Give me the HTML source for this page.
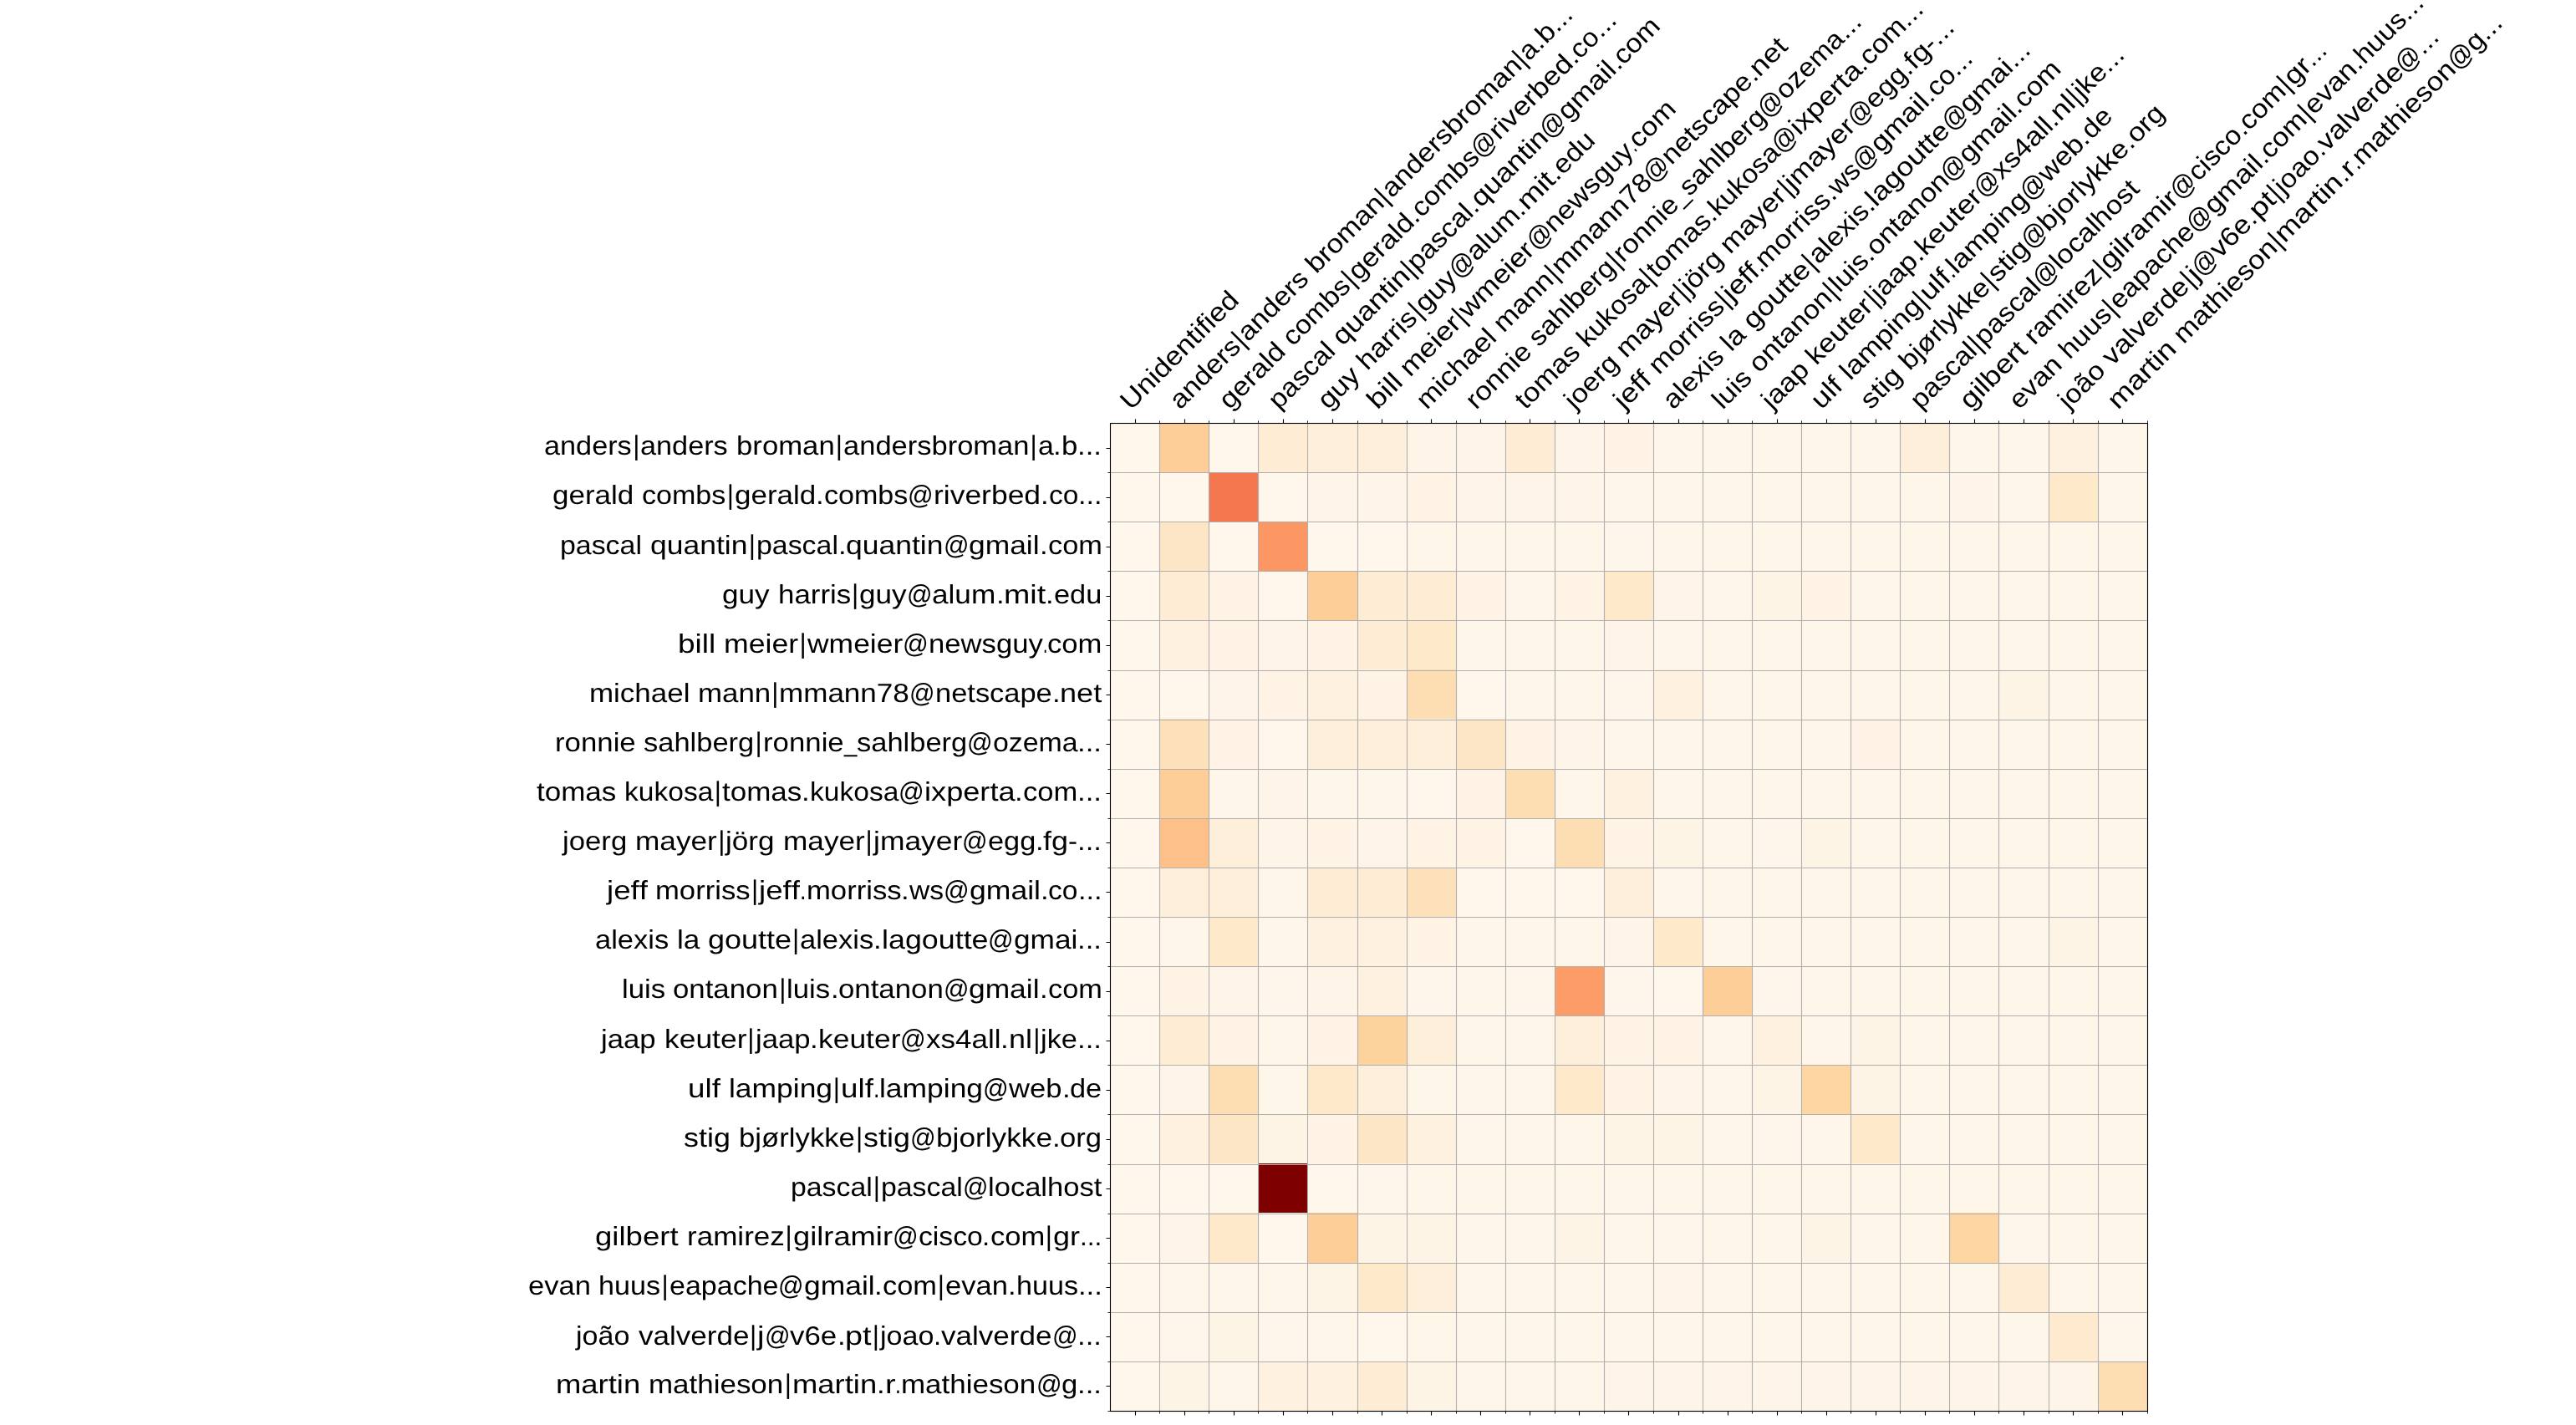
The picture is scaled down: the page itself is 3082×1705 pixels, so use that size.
<!DOCTYPE html>
<html lang="en"><head><meta charset="utf-8"><title>Author similarity heatmap</title><style>
html,body{margin:0;padding:0;background:#fff}
body{width:3082px;height:1705px;position:relative;font-family:"Liberation Sans",sans-serif;color:#000}
.yl,.xl{position:absolute;white-space:pre;font-size:31.63px;line-height:32px;height:32px;font-kerning:none;text-rendering:geometricPrecision}
.yl{transform-origin:100% 27px}
.xl{transform-origin:0 27px}
.yl span,.xl span{display:inline-block;transform-origin:0 50%}
.yl span.b,.xl span.b{text-align:center;transform-origin:50% 18.9px;transform:scaleY(1.033)}
</style></head><body>
<svg width="3082" height="1705" viewBox="0 0 3082 1705" style="position:absolute;left:0;top:0">
<g shape-rendering="crispEdges">
<rect x="1328" y="506" width="1242" height="1183" fill="#fff7ec"/>
<rect x="1387" y="506" width="59" height="59" fill="#fdce98"/>
<rect x="1505" y="506" width="59" height="59" fill="#feedd4"/>
<rect x="1564" y="506" width="60" height="59" fill="#feefdb"/>
<rect x="1624" y="506" width="59" height="59" fill="#feefdb"/>
<rect x="1683" y="506" width="59" height="59" fill="#fef5e8"/>
<rect x="1742" y="506" width="59" height="59" fill="#fef5e8"/>
<rect x="1801" y="506" width="59" height="59" fill="#feedd4"/>
<rect x="1860" y="506" width="59" height="59" fill="#fef5e8"/>
<rect x="1919" y="506" width="59" height="59" fill="#fef3e4"/>
<rect x="1978" y="506" width="59" height="59" fill="#fef6e9"/>
<rect x="2037" y="506" width="59" height="59" fill="#fef6e9"/>
<rect x="2096" y="506" width="59" height="59" fill="#fef6e9"/>
<rect x="2155" y="506" width="59" height="59" fill="#fef6e9"/>
<rect x="2214" y="506" width="59" height="59" fill="#fef6e9"/>
<rect x="2273" y="506" width="59" height="59" fill="#feefdb"/>
<rect x="2332" y="506" width="59" height="59" fill="#fef6e9"/>
<rect x="2391" y="506" width="60" height="59" fill="#fef6e9"/>
<rect x="2451" y="506" width="59" height="59" fill="#fef1df"/>
<rect x="2510" y="506" width="59" height="59" fill="#fef6e9"/>
<rect x="1446" y="565" width="59" height="59" fill="#f4774f"/>
<rect x="1564" y="565" width="60" height="59" fill="#fef5e8"/>
<rect x="1624" y="565" width="59" height="59" fill="#fef5e8"/>
<rect x="1683" y="565" width="59" height="59" fill="#fef3e4"/>
<rect x="1742" y="565" width="59" height="59" fill="#fef5e8"/>
<rect x="1801" y="565" width="59" height="59" fill="#fef5e8"/>
<rect x="1860" y="565" width="59" height="59" fill="#fef5e8"/>
<rect x="1919" y="565" width="59" height="59" fill="#fef6e9"/>
<rect x="1978" y="565" width="59" height="59" fill="#fef6e9"/>
<rect x="2037" y="565" width="59" height="59" fill="#fef6e9"/>
<rect x="2096" y="565" width="59" height="59" fill="#fef6e9"/>
<rect x="2155" y="565" width="59" height="59" fill="#fef6e9"/>
<rect x="2214" y="565" width="59" height="59" fill="#fef6e9"/>
<rect x="2273" y="565" width="59" height="59" fill="#fef6e9"/>
<rect x="2332" y="565" width="59" height="59" fill="#fef5e8"/>
<rect x="2391" y="565" width="60" height="59" fill="#fef6e9"/>
<rect x="2451" y="565" width="59" height="59" fill="#fee9cb"/>
<rect x="2510" y="565" width="59" height="59" fill="#fef6e9"/>
<rect x="1387" y="624" width="59" height="59" fill="#fde6c5"/>
<rect x="1505" y="624" width="59" height="59" fill="#fc9763"/>
<rect x="1683" y="624" width="59" height="59" fill="#fef6e9"/>
<rect x="1742" y="624" width="59" height="59" fill="#fef6e9"/>
<rect x="1801" y="624" width="59" height="59" fill="#fef6e9"/>
<rect x="1860" y="624" width="59" height="59" fill="#fef6e9"/>
<rect x="1919" y="624" width="59" height="59" fill="#fef6ea"/>
<rect x="1978" y="624" width="59" height="59" fill="#fef6e9"/>
<rect x="2037" y="624" width="59" height="59" fill="#fef6e9"/>
<rect x="2096" y="624" width="59" height="59" fill="#fef6e9"/>
<rect x="2155" y="624" width="59" height="59" fill="#fef6e9"/>
<rect x="2214" y="624" width="59" height="59" fill="#fef6e9"/>
<rect x="2273" y="624" width="59" height="59" fill="#fef6e9"/>
<rect x="2332" y="624" width="59" height="59" fill="#fef6e9"/>
<rect x="2391" y="624" width="60" height="59" fill="#fef6e9"/>
<rect x="2451" y="624" width="59" height="59" fill="#fef6e9"/>
<rect x="2510" y="624" width="59" height="59" fill="#fef6e9"/>
<rect x="1387" y="683" width="59" height="59" fill="#feedd4"/>
<rect x="1446" y="683" width="59" height="59" fill="#fef3e4"/>
<rect x="1564" y="683" width="60" height="59" fill="#fdce98"/>
<rect x="1624" y="683" width="59" height="59" fill="#feedd4"/>
<rect x="1683" y="683" width="59" height="59" fill="#feedd4"/>
<rect x="1742" y="683" width="59" height="59" fill="#fef3e4"/>
<rect x="1801" y="683" width="59" height="59" fill="#fef6e9"/>
<rect x="1860" y="683" width="59" height="59" fill="#fef3e4"/>
<rect x="1919" y="683" width="59" height="59" fill="#fee9cb"/>
<rect x="1978" y="683" width="59" height="59" fill="#fef5e8"/>
<rect x="2037" y="683" width="59" height="59" fill="#fef6ea"/>
<rect x="2096" y="683" width="59" height="59" fill="#fef4e6"/>
<rect x="2155" y="683" width="59" height="59" fill="#fef3e4"/>
<rect x="2214" y="683" width="59" height="59" fill="#fef6ea"/>
<rect x="2273" y="683" width="59" height="59" fill="#fef6e9"/>
<rect x="2332" y="683" width="59" height="59" fill="#fef6e9"/>
<rect x="2391" y="683" width="60" height="59" fill="#fef6e9"/>
<rect x="2451" y="683" width="59" height="59" fill="#fef6e9"/>
<rect x="2510" y="683" width="59" height="59" fill="#fef6e9"/>
<rect x="1387" y="742" width="59" height="59" fill="#fef1df"/>
<rect x="1446" y="742" width="59" height="59" fill="#fef3e4"/>
<rect x="1505" y="742" width="59" height="59" fill="#fef5e8"/>
<rect x="1564" y="742" width="60" height="59" fill="#fef3e4"/>
<rect x="1624" y="742" width="59" height="59" fill="#feedd4"/>
<rect x="1683" y="742" width="59" height="59" fill="#fee9cb"/>
<rect x="1742" y="742" width="59" height="59" fill="#fef6e9"/>
<rect x="1801" y="742" width="59" height="59" fill="#fef6e9"/>
<rect x="1860" y="742" width="59" height="59" fill="#fef6e9"/>
<rect x="1919" y="742" width="59" height="59" fill="#fef5e8"/>
<rect x="1978" y="742" width="59" height="59" fill="#fef6ea"/>
<rect x="2037" y="742" width="59" height="59" fill="#fef6e9"/>
<rect x="2096" y="742" width="59" height="59" fill="#fef6e9"/>
<rect x="2155" y="742" width="59" height="59" fill="#fef6e9"/>
<rect x="2214" y="742" width="59" height="59" fill="#fef6e9"/>
<rect x="2273" y="742" width="59" height="59" fill="#fef6e9"/>
<rect x="2332" y="742" width="59" height="59" fill="#fef6e9"/>
<rect x="2391" y="742" width="60" height="59" fill="#fef6e9"/>
<rect x="2451" y="742" width="59" height="59" fill="#fef6e9"/>
<rect x="2510" y="742" width="59" height="59" fill="#fef6e9"/>
<rect x="1446" y="801" width="59" height="59" fill="#fef5e8"/>
<rect x="1505" y="801" width="59" height="59" fill="#fef3e4"/>
<rect x="1564" y="801" width="60" height="59" fill="#fef1df"/>
<rect x="1624" y="801" width="59" height="59" fill="#fef3e4"/>
<rect x="1683" y="801" width="59" height="59" fill="#fdddb2"/>
<rect x="1801" y="801" width="59" height="59" fill="#fef6e9"/>
<rect x="1860" y="801" width="59" height="59" fill="#fef6e9"/>
<rect x="1919" y="801" width="59" height="59" fill="#fef6ea"/>
<rect x="1978" y="801" width="59" height="59" fill="#fef1df"/>
<rect x="2037" y="801" width="59" height="59" fill="#fef6e9"/>
<rect x="2096" y="801" width="59" height="59" fill="#fef6e9"/>
<rect x="2155" y="801" width="59" height="59" fill="#fef6e9"/>
<rect x="2214" y="801" width="59" height="59" fill="#fef6e9"/>
<rect x="2273" y="801" width="59" height="59" fill="#fef6e9"/>
<rect x="2332" y="801" width="59" height="59" fill="#fef6e9"/>
<rect x="2391" y="801" width="60" height="59" fill="#fef4e6"/>
<rect x="2451" y="801" width="59" height="59" fill="#fef6e9"/>
<rect x="2510" y="801" width="59" height="59" fill="#fef6e9"/>
<rect x="1387" y="860" width="59" height="60" fill="#fde1ba"/>
<rect x="1446" y="860" width="59" height="60" fill="#fef3e4"/>
<rect x="1564" y="860" width="60" height="60" fill="#feefdb"/>
<rect x="1624" y="860" width="59" height="60" fill="#feefdb"/>
<rect x="1683" y="860" width="59" height="60" fill="#feefdb"/>
<rect x="1742" y="860" width="59" height="60" fill="#fde6c5"/>
<rect x="1801" y="860" width="59" height="60" fill="#fef3e4"/>
<rect x="1860" y="860" width="59" height="60" fill="#fef5e8"/>
<rect x="1919" y="860" width="59" height="60" fill="#fef6e9"/>
<rect x="1978" y="860" width="59" height="60" fill="#fef6e9"/>
<rect x="2037" y="860" width="59" height="60" fill="#fef6e9"/>
<rect x="2096" y="860" width="59" height="60" fill="#fef6e9"/>
<rect x="2155" y="860" width="59" height="60" fill="#fef6e9"/>
<rect x="2214" y="860" width="59" height="60" fill="#fef3e4"/>
<rect x="2273" y="860" width="59" height="60" fill="#fef6e9"/>
<rect x="2332" y="860" width="59" height="60" fill="#fef6e9"/>
<rect x="2391" y="860" width="60" height="60" fill="#fef6e9"/>
<rect x="2451" y="860" width="59" height="60" fill="#fef6e9"/>
<rect x="2510" y="860" width="59" height="60" fill="#fef6e9"/>
<rect x="1387" y="920" width="59" height="59" fill="#fdce98"/>
<rect x="1446" y="920" width="59" height="59" fill="#fef6e9"/>
<rect x="1505" y="920" width="59" height="59" fill="#fef5e8"/>
<rect x="1564" y="920" width="60" height="59" fill="#fef6e9"/>
<rect x="1624" y="920" width="59" height="59" fill="#fef6e9"/>
<rect x="1742" y="920" width="59" height="59" fill="#fef3e4"/>
<rect x="1801" y="920" width="59" height="59" fill="#fdddb2"/>
<rect x="1860" y="920" width="59" height="59" fill="#fef6e9"/>
<rect x="1919" y="920" width="59" height="59" fill="#fef1df"/>
<rect x="1978" y="920" width="59" height="59" fill="#fef6e9"/>
<rect x="2037" y="920" width="59" height="59" fill="#fef6e9"/>
<rect x="2096" y="920" width="59" height="59" fill="#fef6e9"/>
<rect x="2155" y="920" width="59" height="59" fill="#fef6e9"/>
<rect x="2214" y="920" width="59" height="59" fill="#fef6e9"/>
<rect x="2273" y="920" width="59" height="59" fill="#fef6e9"/>
<rect x="2332" y="920" width="59" height="59" fill="#fef6e9"/>
<rect x="2391" y="920" width="60" height="59" fill="#fef6e9"/>
<rect x="2451" y="920" width="59" height="59" fill="#fef6e9"/>
<rect x="2510" y="920" width="59" height="59" fill="#fef6e9"/>
<rect x="1387" y="979" width="59" height="59" fill="#fdc089"/>
<rect x="1446" y="979" width="59" height="59" fill="#feefdb"/>
<rect x="1505" y="979" width="59" height="59" fill="#fef5e8"/>
<rect x="1564" y="979" width="60" height="59" fill="#fef3e4"/>
<rect x="1624" y="979" width="59" height="59" fill="#fef5e8"/>
<rect x="1683" y="979" width="59" height="59" fill="#fef3e4"/>
<rect x="1742" y="979" width="59" height="59" fill="#fef3e4"/>
<rect x="1860" y="979" width="59" height="59" fill="#fdddb2"/>
<rect x="1919" y="979" width="59" height="59" fill="#fef3e4"/>
<rect x="1978" y="979" width="59" height="59" fill="#fef4e6"/>
<rect x="2037" y="979" width="59" height="59" fill="#fef6e9"/>
<rect x="2096" y="979" width="59" height="59" fill="#fef6ea"/>
<rect x="2155" y="979" width="59" height="59" fill="#fef4e6"/>
<rect x="2214" y="979" width="59" height="59" fill="#fef6e9"/>
<rect x="2273" y="979" width="59" height="59" fill="#fef6e9"/>
<rect x="2332" y="979" width="59" height="59" fill="#fef6e9"/>
<rect x="2391" y="979" width="60" height="59" fill="#fef6e9"/>
<rect x="2451" y="979" width="59" height="59" fill="#fef6e9"/>
<rect x="2510" y="979" width="59" height="59" fill="#fef6e9"/>
<rect x="1387" y="1038" width="59" height="59" fill="#feefdb"/>
<rect x="1446" y="1038" width="59" height="59" fill="#feefdb"/>
<rect x="1505" y="1038" width="59" height="59" fill="#fef6e9"/>
<rect x="1564" y="1038" width="60" height="59" fill="#feedd4"/>
<rect x="1624" y="1038" width="59" height="59" fill="#feedd4"/>
<rect x="1683" y="1038" width="59" height="59" fill="#fde1ba"/>
<rect x="1919" y="1038" width="59" height="59" fill="#feefdb"/>
<rect x="1978" y="1038" width="59" height="59" fill="#fef6ea"/>
<rect x="2037" y="1038" width="59" height="59" fill="#fef6e9"/>
<rect x="2096" y="1038" width="59" height="59" fill="#fef6e9"/>
<rect x="2155" y="1038" width="59" height="59" fill="#fef6e9"/>
<rect x="2214" y="1038" width="59" height="59" fill="#fef6e9"/>
<rect x="2273" y="1038" width="59" height="59" fill="#fef6e9"/>
<rect x="2332" y="1038" width="59" height="59" fill="#fef6e9"/>
<rect x="2391" y="1038" width="60" height="59" fill="#fef6e9"/>
<rect x="2451" y="1038" width="59" height="59" fill="#fef6e9"/>
<rect x="2510" y="1038" width="59" height="59" fill="#fef6e9"/>
<rect x="1387" y="1097" width="59" height="59" fill="#fef6e9"/>
<rect x="1446" y="1097" width="59" height="59" fill="#fee9cb"/>
<rect x="1505" y="1097" width="59" height="59" fill="#fef6e9"/>
<rect x="1564" y="1097" width="60" height="59" fill="#fef1df"/>
<rect x="1624" y="1097" width="59" height="59" fill="#fef1df"/>
<rect x="1683" y="1097" width="59" height="59" fill="#fef3e4"/>
<rect x="1742" y="1097" width="59" height="59" fill="#fef6e9"/>
<rect x="1801" y="1097" width="59" height="59" fill="#fef6e9"/>
<rect x="1860" y="1097" width="59" height="59" fill="#fef6e9"/>
<rect x="1919" y="1097" width="59" height="59" fill="#fef5e8"/>
<rect x="1978" y="1097" width="59" height="59" fill="#fee9cb"/>
<rect x="2037" y="1097" width="59" height="59" fill="#fef6e9"/>
<rect x="2096" y="1097" width="59" height="59" fill="#fef6e9"/>
<rect x="2155" y="1097" width="59" height="59" fill="#fef6e9"/>
<rect x="2214" y="1097" width="59" height="59" fill="#fef6e9"/>
<rect x="2273" y="1097" width="59" height="59" fill="#fef6e9"/>
<rect x="2332" y="1097" width="59" height="59" fill="#fef6e9"/>
<rect x="2391" y="1097" width="60" height="59" fill="#fef6e9"/>
<rect x="2451" y="1097" width="59" height="59" fill="#fef4e6"/>
<rect x="2510" y="1097" width="59" height="59" fill="#fef6e9"/>
<rect x="1387" y="1156" width="59" height="59" fill="#fef3e4"/>
<rect x="1446" y="1156" width="59" height="59" fill="#fef5e8"/>
<rect x="1505" y="1156" width="59" height="59" fill="#fef6ea"/>
<rect x="1564" y="1156" width="60" height="59" fill="#fef5e8"/>
<rect x="1624" y="1156" width="59" height="59" fill="#fef1df"/>
<rect x="1683" y="1156" width="59" height="59" fill="#fef6ea"/>
<rect x="1742" y="1156" width="59" height="59" fill="#fef6e9"/>
<rect x="1801" y="1156" width="59" height="59" fill="#fef6ea"/>
<rect x="1860" y="1156" width="59" height="59" fill="#fc9c67"/>
<rect x="1919" y="1156" width="59" height="59" fill="#fef6ea"/>
<rect x="2037" y="1156" width="59" height="59" fill="#fdce98"/>
<rect x="2096" y="1156" width="59" height="59" fill="#fef6ea"/>
<rect x="2155" y="1156" width="59" height="59" fill="#fef6e9"/>
<rect x="2214" y="1156" width="59" height="59" fill="#fef6e9"/>
<rect x="2273" y="1156" width="59" height="59" fill="#fef6e9"/>
<rect x="2332" y="1156" width="59" height="59" fill="#fef6e9"/>
<rect x="2391" y="1156" width="60" height="59" fill="#fef6e9"/>
<rect x="2451" y="1156" width="59" height="59" fill="#fef6e9"/>
<rect x="2510" y="1156" width="59" height="59" fill="#fef6e9"/>
<rect x="1387" y="1215" width="59" height="59" fill="#feedd4"/>
<rect x="1446" y="1215" width="59" height="59" fill="#fef3e4"/>
<rect x="1505" y="1215" width="59" height="59" fill="#fef6e9"/>
<rect x="1564" y="1215" width="60" height="59" fill="#fef3e4"/>
<rect x="1624" y="1215" width="59" height="59" fill="#fdd39d"/>
<rect x="1683" y="1215" width="59" height="59" fill="#feefdb"/>
<rect x="1742" y="1215" width="59" height="59" fill="#fef6e9"/>
<rect x="1801" y="1215" width="59" height="59" fill="#fef6e9"/>
<rect x="1860" y="1215" width="59" height="59" fill="#feefdb"/>
<rect x="1919" y="1215" width="59" height="59" fill="#fef3e4"/>
<rect x="1978" y="1215" width="59" height="59" fill="#fef3e4"/>
<rect x="2037" y="1215" width="59" height="59" fill="#fef6e9"/>
<rect x="2096" y="1215" width="59" height="59" fill="#fef1df"/>
<rect x="2155" y="1215" width="59" height="59" fill="#fef6e9"/>
<rect x="2214" y="1215" width="59" height="59" fill="#fef4e6"/>
<rect x="2273" y="1215" width="59" height="59" fill="#fef6e9"/>
<rect x="2332" y="1215" width="59" height="59" fill="#fef6e9"/>
<rect x="2391" y="1215" width="60" height="59" fill="#fef6e9"/>
<rect x="2451" y="1215" width="59" height="59" fill="#fef6e9"/>
<rect x="2510" y="1215" width="59" height="59" fill="#fef6e9"/>
<rect x="1387" y="1274" width="59" height="59" fill="#fef5e8"/>
<rect x="1446" y="1274" width="59" height="59" fill="#fdddb2"/>
<rect x="1505" y="1274" width="59" height="59" fill="#fef6e9"/>
<rect x="1564" y="1274" width="60" height="59" fill="#fee9cb"/>
<rect x="1624" y="1274" width="59" height="59" fill="#feefdb"/>
<rect x="1683" y="1274" width="59" height="59" fill="#fef6e9"/>
<rect x="1742" y="1274" width="59" height="59" fill="#fef6ea"/>
<rect x="1801" y="1274" width="59" height="59" fill="#fef6e9"/>
<rect x="1860" y="1274" width="59" height="59" fill="#fee9cb"/>
<rect x="1919" y="1274" width="59" height="59" fill="#fef3e4"/>
<rect x="1978" y="1274" width="59" height="59" fill="#fef5e8"/>
<rect x="2037" y="1274" width="59" height="59" fill="#fef6e9"/>
<rect x="2096" y="1274" width="59" height="59" fill="#fef4e6"/>
<rect x="2155" y="1274" width="59" height="59" fill="#fdd6a2"/>
<rect x="2214" y="1274" width="59" height="59" fill="#fef4e6"/>
<rect x="2273" y="1274" width="59" height="59" fill="#fef6e9"/>
<rect x="2332" y="1274" width="59" height="59" fill="#fef6e9"/>
<rect x="2391" y="1274" width="60" height="59" fill="#fef6e9"/>
<rect x="2451" y="1274" width="59" height="59" fill="#fef6e9"/>
<rect x="2510" y="1274" width="59" height="59" fill="#fef6e9"/>
<rect x="1387" y="1333" width="59" height="59" fill="#fef1df"/>
<rect x="1446" y="1333" width="59" height="59" fill="#fde6c5"/>
<rect x="1505" y="1333" width="59" height="59" fill="#fef4e6"/>
<rect x="1564" y="1333" width="60" height="59" fill="#fef3e4"/>
<rect x="1624" y="1333" width="59" height="59" fill="#fde6c5"/>
<rect x="1683" y="1333" width="59" height="59" fill="#fef1df"/>
<rect x="1742" y="1333" width="59" height="59" fill="#fef6ea"/>
<rect x="1801" y="1333" width="59" height="59" fill="#fef6e9"/>
<rect x="1860" y="1333" width="59" height="59" fill="#fef6e9"/>
<rect x="1919" y="1333" width="59" height="59" fill="#fef4e6"/>
<rect x="1978" y="1333" width="59" height="59" fill="#fef4e6"/>
<rect x="2037" y="1333" width="59" height="59" fill="#fef6e9"/>
<rect x="2096" y="1333" width="59" height="59" fill="#fef6ea"/>
<rect x="2155" y="1333" width="59" height="59" fill="#fef6ea"/>
<rect x="2214" y="1333" width="59" height="59" fill="#fee9cb"/>
<rect x="2273" y="1333" width="59" height="59" fill="#fef6e9"/>
<rect x="2332" y="1333" width="59" height="59" fill="#fef6e9"/>
<rect x="2391" y="1333" width="60" height="59" fill="#fef6e9"/>
<rect x="2451" y="1333" width="59" height="59" fill="#fef6e9"/>
<rect x="2510" y="1333" width="59" height="59" fill="#fef6e9"/>
<rect x="1505" y="1392" width="59" height="59" fill="#7f0000"/>
<rect x="1624" y="1392" width="59" height="59" fill="#fef6ea"/>
<rect x="1683" y="1392" width="59" height="59" fill="#fef6e9"/>
<rect x="1742" y="1392" width="59" height="59" fill="#fef6e9"/>
<rect x="1801" y="1392" width="59" height="59" fill="#fef6e9"/>
<rect x="1860" y="1392" width="59" height="59" fill="#fef6e9"/>
<rect x="1919" y="1392" width="59" height="59" fill="#fef6e9"/>
<rect x="1978" y="1392" width="59" height="59" fill="#fef6e9"/>
<rect x="2037" y="1392" width="59" height="59" fill="#fef6e9"/>
<rect x="2096" y="1392" width="59" height="59" fill="#fef6e9"/>
<rect x="2155" y="1392" width="59" height="59" fill="#fef6e9"/>
<rect x="2214" y="1392" width="59" height="59" fill="#fef6e9"/>
<rect x="2273" y="1392" width="59" height="59" fill="#fef6e9"/>
<rect x="2332" y="1392" width="59" height="59" fill="#fef6e9"/>
<rect x="2391" y="1392" width="60" height="59" fill="#fef6e9"/>
<rect x="2451" y="1392" width="59" height="59" fill="#fef6e9"/>
<rect x="2510" y="1392" width="59" height="59" fill="#fef6e9"/>
<rect x="1387" y="1451" width="59" height="60" fill="#fef5e8"/>
<rect x="1446" y="1451" width="59" height="60" fill="#fee9cb"/>
<rect x="1564" y="1451" width="60" height="60" fill="#fdce98"/>
<rect x="1624" y="1451" width="59" height="60" fill="#fef4e6"/>
<rect x="1683" y="1451" width="59" height="60" fill="#fef4e6"/>
<rect x="1742" y="1451" width="59" height="60" fill="#fef6ea"/>
<rect x="1801" y="1451" width="59" height="60" fill="#fef6e9"/>
<rect x="1860" y="1451" width="59" height="60" fill="#fef4e6"/>
<rect x="1919" y="1451" width="59" height="60" fill="#fef6e9"/>
<rect x="1978" y="1451" width="59" height="60" fill="#fef6ea"/>
<rect x="2037" y="1451" width="59" height="60" fill="#fef6e9"/>
<rect x="2096" y="1451" width="59" height="60" fill="#fef6e9"/>
<rect x="2155" y="1451" width="59" height="60" fill="#fef4e6"/>
<rect x="2214" y="1451" width="59" height="60" fill="#fef6ea"/>
<rect x="2273" y="1451" width="59" height="60" fill="#fef6e9"/>
<rect x="2332" y="1451" width="59" height="60" fill="#fdd6a2"/>
<rect x="2391" y="1451" width="60" height="60" fill="#fef6ea"/>
<rect x="2451" y="1451" width="59" height="60" fill="#fef6e9"/>
<rect x="2510" y="1451" width="59" height="60" fill="#fef6e9"/>
<rect x="1387" y="1511" width="59" height="59" fill="#fef6e9"/>
<rect x="1446" y="1511" width="59" height="59" fill="#fef6ea"/>
<rect x="1505" y="1511" width="59" height="59" fill="#fef6e9"/>
<rect x="1564" y="1511" width="60" height="59" fill="#fef4e6"/>
<rect x="1624" y="1511" width="59" height="59" fill="#fee9cb"/>
<rect x="1683" y="1511" width="59" height="59" fill="#feefdb"/>
<rect x="1742" y="1511" width="59" height="59" fill="#fef6e9"/>
<rect x="1801" y="1511" width="59" height="59" fill="#fef6e9"/>
<rect x="1860" y="1511" width="59" height="59" fill="#fef6e9"/>
<rect x="1919" y="1511" width="59" height="59" fill="#fef6e9"/>
<rect x="1978" y="1511" width="59" height="59" fill="#fef5e8"/>
<rect x="2037" y="1511" width="59" height="59" fill="#fef6e9"/>
<rect x="2096" y="1511" width="59" height="59" fill="#fef6e9"/>
<rect x="2155" y="1511" width="59" height="59" fill="#fef6e9"/>
<rect x="2214" y="1511" width="59" height="59" fill="#fef6e9"/>
<rect x="2273" y="1511" width="59" height="59" fill="#fef6e9"/>
<rect x="2332" y="1511" width="59" height="59" fill="#fef6e9"/>
<rect x="2391" y="1511" width="60" height="59" fill="#feedd4"/>
<rect x="2451" y="1511" width="59" height="59" fill="#fef6e9"/>
<rect x="2510" y="1511" width="59" height="59" fill="#fef6e9"/>
<rect x="1387" y="1570" width="59" height="59" fill="#fef6ea"/>
<rect x="1446" y="1570" width="59" height="59" fill="#fef4e6"/>
<rect x="1505" y="1570" width="59" height="59" fill="#fef6ea"/>
<rect x="1564" y="1570" width="60" height="59" fill="#fef6e9"/>
<rect x="1683" y="1570" width="59" height="59" fill="#fef6e9"/>
<rect x="1742" y="1570" width="59" height="59" fill="#fef6e9"/>
<rect x="1801" y="1570" width="59" height="59" fill="#fef6e9"/>
<rect x="1860" y="1570" width="59" height="59" fill="#fef6e9"/>
<rect x="1919" y="1570" width="59" height="59" fill="#fef6e9"/>
<rect x="1978" y="1570" width="59" height="59" fill="#fef6e9"/>
<rect x="2037" y="1570" width="59" height="59" fill="#fef6e9"/>
<rect x="2096" y="1570" width="59" height="59" fill="#fef6e9"/>
<rect x="2155" y="1570" width="59" height="59" fill="#fef6e9"/>
<rect x="2214" y="1570" width="59" height="59" fill="#fef6e9"/>
<rect x="2273" y="1570" width="59" height="59" fill="#fef6e9"/>
<rect x="2332" y="1570" width="59" height="59" fill="#fef6e9"/>
<rect x="2391" y="1570" width="60" height="59" fill="#fef6e9"/>
<rect x="2451" y="1570" width="59" height="59" fill="#feeace"/>
<rect x="2510" y="1570" width="59" height="59" fill="#fef6ea"/>
<rect x="1387" y="1629" width="59" height="59" fill="#fef4e6"/>
<rect x="1446" y="1629" width="59" height="59" fill="#fef6e9"/>
<rect x="1505" y="1629" width="59" height="59" fill="#fef1df"/>
<rect x="1564" y="1629" width="60" height="59" fill="#fef1df"/>
<rect x="1624" y="1629" width="59" height="59" fill="#feedd4"/>
<rect x="1683" y="1629" width="59" height="59" fill="#fef4e6"/>
<rect x="1742" y="1629" width="59" height="59" fill="#fef6e9"/>
<rect x="1801" y="1629" width="59" height="59" fill="#fef6e9"/>
<rect x="1860" y="1629" width="59" height="59" fill="#fef6e9"/>
<rect x="1919" y="1629" width="59" height="59" fill="#fef5e8"/>
<rect x="1978" y="1629" width="59" height="59" fill="#fef5e8"/>
<rect x="2037" y="1629" width="59" height="59" fill="#fef5e8"/>
<rect x="2096" y="1629" width="59" height="59" fill="#fef5e8"/>
<rect x="2155" y="1629" width="59" height="59" fill="#fef5e8"/>
<rect x="2214" y="1629" width="59" height="59" fill="#fef5e8"/>
<rect x="2273" y="1629" width="59" height="59" fill="#fef5e8"/>
<rect x="2332" y="1629" width="59" height="59" fill="#fef5e8"/>
<rect x="2391" y="1629" width="60" height="59" fill="#fef5e8"/>
<rect x="2451" y="1629" width="59" height="59" fill="#fef5e8"/>
<rect x="2510" y="1629" width="59" height="59" fill="#fdddb2"/>
</g>
<path d="M1387.5 506 V1688 M1446.5 506 V1688 M1505.5 506 V1688 M1564.5 506 V1688 M1624.5 506 V1688 M1683.5 506 V1688 M1742.5 506 V1688 M1801.5 506 V1688 M1860.5 506 V1688 M1919.5 506 V1688 M1978.5 506 V1688 M2037.5 506 V1688 M2096.5 506 V1688 M2155.5 506 V1688 M2214.5 506 V1688 M2273.5 506 V1688 M2332.5 506 V1688 M2391.5 506 V1688 M2451.5 506 V1688 M2510.5 506 V1688 M1328.2 565.5 H2568.67 M1328.2 624.5 H2568.67 M1328.2 683.5 H2568.67 M1328.2 742.5 H2568.67 M1328.2 802.5 H2568.67 M1328.2 861.5 H2568.67 M1328.2 920.5 H2568.67 M1328.2 979.5 H2568.67 M1328.2 1038.5 H2568.67 M1328.2 1097.5 H2568.67 M1328.2 1156.5 H2568.67 M1328.2 1215.5 H2568.67 M1328.2 1274.5 H2568.67 M1328.2 1333.5 H2568.67 M1328.2 1393.5 H2568.67 M1328.2 1452.5 H2568.67 M1328.2 1511.5 H2568.67 M1328.2 1570.5 H2568.67 M1328.2 1629.5 H2568.67" stroke="#b0b0b0" stroke-width="1.111" fill="none"/>
<path d="M1358.5 506.5 v-5.001 M1358.5 1688.5 v5.001 M1417.5 506.5 v-5.001 M1417.5 1688.5 v5.001 M1476.5 506.5 v-5.001 M1476.5 1688.5 v5.001 M1535.5 506.5 v-5.001 M1535.5 1688.5 v5.001 M1594.5 506.5 v-5.001 M1594.5 1688.5 v5.001 M1653.5 506.5 v-5.001 M1653.5 1688.5 v5.001 M1712.5 506.5 v-5.001 M1712.5 1688.5 v5.001 M1771.5 506.5 v-5.001 M1771.5 1688.5 v5.001 M1830.5 506.5 v-5.001 M1830.5 1688.5 v5.001 M1889.5 506.5 v-5.001 M1889.5 1688.5 v5.001 M1948.5 506.5 v-5.001 M1948.5 1688.5 v5.001 M2008.5 506.5 v-5.001 M2008.5 1688.5 v5.001 M2067.5 506.5 v-5.001 M2067.5 1688.5 v5.001 M2126.5 506.5 v-5.001 M2126.5 1688.5 v5.001 M2185.5 506.5 v-5.001 M2185.5 1688.5 v5.001 M2244.5 506.5 v-5.001 M2244.5 1688.5 v5.001 M2303.5 506.5 v-5.001 M2303.5 1688.5 v5.001 M2362.5 506.5 v-5.001 M2362.5 1688.5 v5.001 M2421.5 506.5 v-5.001 M2421.5 1688.5 v5.001 M2480.5 506.5 v-5.001 M2480.5 1688.5 v5.001 M2539.5 506.5 v-5.001 M2539.5 1688.5 v5.001 M1328.5 536.5 h-5.001 M1328.5 595.5 h-5.001 M1328.5 654.5 h-5.001 M1328.5 713.5 h-5.001 M1328.5 772.5 h-5.001 M1328.5 831.5 h-5.001 M1328.5 890.5 h-5.001 M1328.5 949.5 h-5.001 M1328.5 1008.5 h-5.001 M1328.5 1067.5 h-5.001 M1328.5 1127.5 h-5.001 M1328.5 1186.5 h-5.001 M1328.5 1245.5 h-5.001 M1328.5 1304.5 h-5.001 M1328.5 1363.5 h-5.001 M1328.5 1422.5 h-5.001 M1328.5 1481.5 h-5.001 M1328.5 1540.5 h-5.001 M1328.5 1599.5 h-5.001 M1328.5 1658.5 h-5.001" stroke="#000" stroke-width="1.111" fill="none"/>
<path d="M1387.5 506.5 v-3.078 M1387.5 1688.5 v3.078 M1446.5 506.5 v-3.078 M1446.5 1688.5 v3.078 M1505.5 506.5 v-3.078 M1505.5 1688.5 v3.078 M1564.5 506.5 v-3.078 M1564.5 1688.5 v3.078 M1624.5 506.5 v-3.078 M1624.5 1688.5 v3.078 M1683.5 506.5 v-3.078 M1683.5 1688.5 v3.078 M1742.5 506.5 v-3.078 M1742.5 1688.5 v3.078 M1801.5 506.5 v-3.078 M1801.5 1688.5 v3.078 M1860.5 506.5 v-3.078 M1860.5 1688.5 v3.078 M1919.5 506.5 v-3.078 M1919.5 1688.5 v3.078 M1978.5 506.5 v-3.078 M1978.5 1688.5 v3.078 M2037.5 506.5 v-3.078 M2037.5 1688.5 v3.078 M2096.5 506.5 v-3.078 M2096.5 1688.5 v3.078 M2155.5 506.5 v-3.078 M2155.5 1688.5 v3.078 M2214.5 506.5 v-3.078 M2214.5 1688.5 v3.078 M2273.5 506.5 v-3.078 M2273.5 1688.5 v3.078 M2332.5 506.5 v-3.078 M2332.5 1688.5 v3.078 M2391.5 506.5 v-3.078 M2391.5 1688.5 v3.078 M2451.5 506.5 v-3.078 M2451.5 1688.5 v3.078 M2510.5 506.5 v-3.078 M2510.5 1688.5 v3.078 M2569.5 506.5 v-3.078 M2569.5 1688.5 v3.078 M1328.5 565.5 h-3.078 M1328.5 624.5 h-3.078 M1328.5 683.5 h-3.078 M1328.5 742.5 h-3.078 M1328.5 802.5 h-3.078 M1328.5 861.5 h-3.078 M1328.5 920.5 h-3.078 M1328.5 979.5 h-3.078 M1328.5 1038.5 h-3.078 M1328.5 1097.5 h-3.078 M1328.5 1156.5 h-3.078 M1328.5 1215.5 h-3.078 M1328.5 1274.5 h-3.078 M1328.5 1333.5 h-3.078 M1328.5 1393.5 h-3.078 M1328.5 1452.5 h-3.078 M1328.5 1511.5 h-3.078 M1328.5 1570.5 h-3.078 M1328.5 1629.5 h-3.078 M1328.5 1688.5 h-3.078" stroke="#000" stroke-width="0.833" fill="none"/>
<rect x="1328.5" y="506.5" width="1241" height="1182" fill="none" stroke="#000" stroke-width="1.111"/>
</svg>
<div class="ylabels" style="position:absolute;left:0;top:0;width:3082px;height:1705px;overflow:hidden;will-change:transform">
<div class="yl" style="left:651.428px;top:517.3px"><span style="width:104.751px;transform:scaleX(1.083)">anders</span><span class="b" style="width:10.262px">|</span><span style="width:104.751px;transform:scaleX(1.083)">anders</span><span style="width:9.762px;transform:scaleX(1.111)"> </span><span style="width:117.766px;transform:scaleX(1.098)">broman</span><span class="b" style="width:10.262px">|</span><span style="width:222.517px;transform:scaleX(1.091)">andersbroman</span><span class="b" style="width:10.262px">|</span><span style="width:18.773px;transform:scaleX(1.067)">a</span><span style="width:9.637px;transform:scaleX(1.097)">.</span><span style="width:19.398px;transform:scaleX(1.103)">b</span><span style="width:28.91px;transform:scaleX(1.097)">...</span></div>
<div class="yl" style="left:661.328px;top:576.4px"><span style="width:97.332px;transform:scaleX(1.107)">gerald</span><span style="width:9.771px;transform:scaleX(1.112)"> </span><span style="width:100.339px;transform:scaleX(1.077)">combs</span><span class="b" style="width:10.272px">|</span><span style="width:97.332px;transform:scaleX(1.107)">gerald</span><span style="width:9.646px;transform:scaleX(1.098)">.</span><span style="width:100.339px;transform:scaleX(1.077)">combs</span><span style="width:30.565px;transform:scaleX(0.952)">@</span><span style="width:128.148px;transform:scaleX(1.121)">riverbed</span><span style="width:9.646px;transform:scaleX(1.098)">.</span><span style="width:35.325px;transform:scaleX(1.057)">co</span><span style="width:28.436px;transform:scaleX(1.079)">...</span></div>
<div class="yl" style="left:670.478px;top:635.5px"><span style="width:97.924px;transform:scaleX(1.071)">pascal</span><span style="width:9.742px;transform:scaleX(1.109)"> </span><span style="width:116.535px;transform:scaleX(1.123)">quantin</span><span class="b" style="width:10.242px">|</span><span style="width:97.924px;transform:scaleX(1.071)">pascal</span><span style="width:9.618px;transform:scaleX(1.094)">.</span><span style="width:116.535px;transform:scaleX(1.123)">quantin</span><span style="width:30.476px;transform:scaleX(0.949)">@</span><span style="width:84.56px;transform:scaleX(1.119)">gmail</span><span style="width:9.618px;transform:scaleX(1.094)">.</span><span style="width:64.825px;transform:scaleX(1.085)">com</span></div>
<div class="yl" style="left:864.478px;top:694.6px"><span style="width:56.625px;transform:scaleX(1.11)">guy</span><span style="width:9.75px;transform:scaleX(1.109)"> </span><span style="width:87.25px;transform:scaleX(1.103)">harris</span><span class="b" style="width:10.25px">|</span><span style="width:56.625px;transform:scaleX(1.11)">guy</span><span style="width:30.5px;transform:scaleX(0.95)">@</span><span style="width:76.25px;transform:scaleX(1.112)">alum</span><span style="width:9.625px;transform:scaleX(1.095)">.</span><span style="width:50.125px;transform:scaleX(1.189)">mit</span><span style="width:9.625px;transform:scaleX(1.095)">.</span><span style="width:57.375px;transform:scaleX(1.087)">edu</span></div>
<div class="yl" style="left:811.353px;top:753.7px"><span style="width:45.277px;transform:scaleX(1.171)">bill</span><span style="width:9.837px;transform:scaleX(1.119)"> </span><span style="width:89.04px;transform:scaleX(1.126)">meier</span><span class="b" style="width:10.342px">|</span><span style="width:114.264px;transform:scaleX(1.121)">wmeier</span><span style="width:30.773px;transform:scaleX(0.958)">@</span><span style="width:136.839px;transform:scaleX(1.096)">newsguy</span><span style="width:5.297px;transform:scaleX(0.603)">.</span><span style="width:65.456px;transform:scaleX(1.095)">com</span></div>
<div class="yl" style="left:704.803px;top:812.8px"><span style="width:120.407px;transform:scaleX(1.105)">michael</span><span style="width:9.763px;transform:scaleX(1.111)"> </span><span style="width:87.239px;transform:scaleX(1.103)">mann</span><span class="b" style="width:10.263px">|</span><span style="width:155.828px;transform:scaleX(1.108)">mmann78</span><span style="width:30.54px;transform:scaleX(0.951)">@</span><span style="width:139.807px;transform:scaleX(1.089)">netscape</span><span style="width:9.638px;transform:scaleX(1.097)">.</span><span style="width:50.19px;transform:scaleX(1.141)">net</span></div>
<div class="yl" style="left:663.828px;top:871.9px"><span style="width:96.707px;transform:scaleX(1.1)">ronnie</span><span style="width:9.771px;transform:scaleX(1.112)"> </span><span style="width:132.283px;transform:scaleX(1.09)">sahlberg</span><span class="b" style="width:10.272px">|</span><span style="width:96.707px;transform:scaleX(1.1)">ronnie</span><span style="width:15.408px;transform:scaleX(0.876)">_</span><span style="width:132.283px;transform:scaleX(1.09)">sahlberg</span><span style="width:30.565px;transform:scaleX(0.952)">@</span><span style="width:101.718px;transform:scaleX(1.071)">ozema</span><span style="width:28.937px;transform:scaleX(1.098)">...</span></div>
<div class="yl" style="left:642.378px;top:931px"><span style="width:95.257px;transform:scaleX(1.106)">tomas</span><span style="width:9.802px;transform:scaleX(1.115)"> </span><span style="width:106.316px;transform:scaleX(1.061)">kukosa</span><span class="b" style="width:10.305px">|</span><span style="width:95.257px;transform:scaleX(1.106)">tomas</span><span style="width:9.677px;transform:scaleX(1.101)">.</span><span style="width:106.316px;transform:scaleX(1.061)">kukosa</span><span style="width:30.663px;transform:scaleX(0.955)">@</span><span style="width:108.578px;transform:scaleX(1.144)">ixperta</span><span style="width:9.677px;transform:scaleX(1.101)">.</span><span style="width:65.222px;transform:scaleX(1.092)">com</span><span style="width:29.03px;transform:scaleX(1.101)">...</span></div>
<div class="yl" style="left:673.378px;top:990.1px"><span style="width:77.197px;transform:scaleX(1.098)">joerg</span><span style="width:9.759px;transform:scaleX(1.111)"> </span><span style="width:97.841px;transform:scaleX(1.113)">mayer</span><span class="b" style="width:10.26px">|</span><span style="width:58.429px;transform:scaleX(1.108)">jörg</span><span style="width:9.759px;transform:scaleX(1.111)"> </span><span style="width:97.841px;transform:scaleX(1.113)">mayer</span><span class="b" style="width:10.26px">|</span><span style="width:106.349px;transform:scaleX(1.121)">jmayer</span><span style="width:30.528px;transform:scaleX(0.951)">@</span><span style="width:57.303px;transform:scaleX(1.086)">egg</span><span style="width:9.634px;transform:scaleX(1.096)">.</span><span style="width:30.028px;transform:scaleX(1.138)">fg</span><span style="width:11.01px;transform:scaleX(1.045)">-</span><span style="width:28.902px;transform:scaleX(1.096)">...</span></div>
<div class="yl" style="left:725.678px;top:1049.2px"><span style="width:48.981px;transform:scaleX(1.161)">jeff</span><span style="width:9.796px;transform:scaleX(1.115)"> </span><span style="width:113.662px;transform:scaleX(1.096)">morriss</span><span class="b" style="width:10.299px">|</span><span style="width:48.981px;transform:scaleX(1.161)">jeff</span><span style="width:7.41px;transform:scaleX(0.843)">.</span><span style="width:113.662px;transform:scaleX(1.096)">morriss</span><span style="width:9.671px;transform:scaleX(1.1)">.</span><span style="width:41.069px;transform:scaleX(1.062)">ws</span><span style="width:30.645px;transform:scaleX(0.954)">@</span><span style="width:85.027px;transform:scaleX(1.125)">gmail</span><span style="width:9.671px;transform:scaleX(1.1)">.</span><span style="width:35.417px;transform:scaleX(1.06)">co</span><span style="width:28.51px;transform:scaleX(1.081)">...</span></div>
<div class="yl" style="left:711.603px;top:1108.3px"><span style="width:88.166px;transform:scaleX(1.09)">alexis</span><span style="width:9.782px;transform:scaleX(1.113)"> </span><span style="width:27.34px;transform:scaleX(1.111)">la</span><span style="width:9.782px;transform:scaleX(1.113)"> </span><span style="width:100.205px;transform:scaleX(1.139)">goutte</span><span class="b" style="width:10.284px">|</span><span style="width:88.166px;transform:scaleX(1.09)">alexis</span><span style="width:9.657px;transform:scaleX(1.099)">.</span><span style="width:127.545px;transform:scaleX(1.133)">lagoutte</span><span style="width:30.601px;transform:scaleX(0.953)">@</span><span style="width:76.377px;transform:scaleX(1.114)">gmai</span><span style="width:28.97px;transform:scaleX(1.099)">...</span></div>
<div class="yl" style="left:743.578px;top:1167.4px"><span style="width:52.196px;transform:scaleX(1.1)">luis</span><span style="width:9.74px;transform:scaleX(1.108)"> </span><span style="width:125.744px;transform:scaleX(1.1)">ontanon</span><span class="b" style="width:10.239px">|</span><span style="width:52.196px;transform:scaleX(1.1)">luis</span><span style="width:9.615px;transform:scaleX(1.094)">.</span><span style="width:125.744px;transform:scaleX(1.1)">ontanon</span><span style="width:30.468px;transform:scaleX(0.949)">@</span><span style="width:84.537px;transform:scaleX(1.118)">gmail</span><span style="width:9.615px;transform:scaleX(1.094)">.</span><span style="width:64.807px;transform:scaleX(1.085)">com</span></div>
<div class="yl" style="left:719.428px;top:1226.5px"><span style="width:65.682px;transform:scaleX(1.098)">jaap</span><span style="width:9.796px;transform:scaleX(1.115)"> </span><span style="width:98.46px;transform:scaleX(1.12)">keuter</span><span class="b" style="width:10.298px">|</span><span style="width:65.682px;transform:scaleX(1.098)">jaap</span><span style="width:9.67px;transform:scaleX(1.1)">.</span><span style="width:98.46px;transform:scaleX(1.12)">keuter</span><span style="width:30.643px;transform:scaleX(0.954)">@</span><span style="width:89.418px;transform:scaleX(1.106)">xs4all</span><span style="width:9.67px;transform:scaleX(1.1)">.</span><span style="width:28.006px;transform:scaleX(1.138)">nl</span><span class="b" style="width:10.298px">|</span><span style="width:43.955px;transform:scaleX(1.087)">jke</span><span style="width:29.011px;transform:scaleX(1.1)">...</span></div>
<div class="yl" style="left:823.053px;top:1285.6px"><span style="width:38.845px;transform:scaleX(1.163)">ulf</span><span style="width:9.805px;transform:scaleX(1.116)"> </span><span style="width:124.076px;transform:scaleX(1.12)">lamping</span><span class="b" style="width:10.308px">|</span><span style="width:38.845px;transform:scaleX(1.163)">ulf</span><span style="width:7.417px;transform:scaleX(0.844)">.</span><span style="width:124.076px;transform:scaleX(1.12)">lamping</span><span style="width:30.673px;transform:scaleX(0.955)">@</span><span style="width:63.484px;transform:scaleX(1.094)">web</span><span style="width:9.68px;transform:scaleX(1.101)">.</span><span style="width:38.216px;transform:scaleX(1.086)">de</span></div>
<div class="yl" style="left:818.278px;top:1344.7px"><span style="width:55.871px;transform:scaleX(1.135)">stig</span><span style="width:9.793px;transform:scaleX(1.114)"> </span><span style="width:138.986px;transform:scaleX(1.098)">bjørlykke</span><span class="b" style="width:10.295px">|</span><span style="width:55.871px;transform:scaleX(1.135)">stig</span><span style="width:30.635px;transform:scaleX(0.954)">@</span><span style="width:138.986px;transform:scaleX(1.114)">bjorlykke</span><span style="width:9.668px;transform:scaleX(1.1)">.</span><span style="width:50.095px;transform:scaleX(1.096)">org</span></div>
<div class="yl" style="left:946.078px;top:1403.8px"><span style="width:97.711px;transform:scaleX(1.069)">pascal</span><span class="b" style="width:10.22px">|</span><span style="width:97.711px;transform:scaleX(1.069)">pascal</span><span style="width:30.41px;transform:scaleX(0.947)">@</span><span style="width:136.347px;transform:scaleX(1.092)">localhost</span></div>
<div class="yl" style="left:712.453px;top:1462.9px"><span style="width:99.559px;transform:scaleX(1.156)">gilbert</span><span style="width:9.805px;transform:scaleX(1.116)"> </span><span style="width:116.78px;transform:scaleX(1.108)">ramirez</span><span class="b" style="width:10.308px">|</span><span style="width:119.043px;transform:scaleX(1.148)">gilramir</span><span style="width:30.672px;transform:scaleX(0.955)">@</span><span style="width:76.806px;transform:scaleX(1.066)">cisco</span><span style="width:9.176px;transform:scaleX(1.044)">.</span><span style="width:65.241px;transform:scaleX(1.092)">com</span><span class="b" style="width:10.308px">|</span><span style="width:32.055px;transform:scaleX(1.14)">gr</span><span style="width:26.272px;transform:scaleX(0.997)">...</span></div>
<div class="yl" style="left:631.853px;top:1522px"><span style="width:74.875px;transform:scaleX(1.092)">evan</span><span style="width:9.75px;transform:scaleX(1.109)"> </span><span style="width:74px;transform:scaleX(1.079)">huus</span><span class="b" style="width:10.25px">|</span><span style="width:130.5px;transform:scaleX(1.075)">eapache</span><span style="width:30.5px;transform:scaleX(0.95)">@</span><span style="width:84.625px;transform:scaleX(1.12)">gmail</span><span style="width:9.625px;transform:scaleX(1.095)">.</span><span style="width:64.875px;transform:scaleX(1.086)">com</span><span class="b" style="width:10.25px">|</span><span style="width:74.875px;transform:scaleX(1.092)">evan</span><span style="width:9.625px;transform:scaleX(1.095)">.</span><span style="width:74px;transform:scaleX(1.079)">huus</span><span style="width:28.875px;transform:scaleX(1.095)">...</span></div>
<div class="yl" style="left:689.453px;top:1581.756px"><span style="width:64.393px;transform:scaleX(1.077)">joão</span><span style="width:9.772px;transform:scaleX(1.112)"> </span><span style="width:132.42px;transform:scaleX(1.108)">valverde</span><span class="b" style="width:10.273px">|</span><span style="width:8.519px;transform:scaleX(1.212)">j</span><span style="width:30.568px;transform:scaleX(0.952)">@</span><span style="width:56.25px;transform:scaleX(1.103)">v6e</span><span style="width:9.646px;transform:scaleX(1.098)">.</span><span style="width:31.445px;transform:scaleX(1.192)">pt</span><span class="b" style="width:10.273px">|</span><span style="width:64.393px;transform:scaleX(1.077)">joao</span><span style="width:9.145px;transform:scaleX(1.041)">.</span><span style="width:132.42px;transform:scaleX(1.108)">valverde</span><span style="width:30.568px;transform:scaleX(0.952)">@</span><span style="width:28.939px;transform:scaleX(1.098)">...</span></div>
<div class="yl" style="left:665.478px;top:1640.2px"><span style="width:101.185px;transform:scaleX(1.151)">martin</span><span style="width:9.78px;transform:scaleX(1.113)"> </span><span style="width:161.244px;transform:scaleX(1.105)">mathieson</span><span class="b" style="width:10.281px">|</span><span style="width:101.185px;transform:scaleX(1.151)">martin</span><span style="width:9.655px;transform:scaleX(1.099)">.</span><span style="width:12.664px;transform:scaleX(1.202)">r</span><span style="width:6.896px;transform:scaleX(0.785)">.</span><span style="width:161.244px;transform:scaleX(1.105)">mathieson</span><span style="width:30.594px;transform:scaleX(0.953)">@</span><span style="width:19.309px;transform:scaleX(1.098)">g</span><span style="width:28.964px;transform:scaleX(1.099)">...</span></div>
</div>
<div class="xlabels" style="position:absolute;left:0;top:0;width:3082px;height:1705px;overflow:hidden;will-change:transform">
<div class="xl" style="left:1353.492px;top:465.035px;transform:rotate(-45deg)"><span style="width:185.25px;transform:scaleX(1.109)">Unidentified</span></div>
<div class="xl" style="left:1411.502px;top:463.974px;transform:rotate(-45deg)"><span style="width:104.751px;transform:scaleX(1.083)">anders</span><span class="b" style="width:10.262px">|</span><span style="width:104.751px;transform:scaleX(1.083)">anders</span><span style="width:9.762px;transform:scaleX(1.111)"> </span><span style="width:117.766px;transform:scaleX(1.098)">broman</span><span class="b" style="width:10.262px">|</span><span style="width:222.517px;transform:scaleX(1.091)">andersbroman</span><span class="b" style="width:10.262px">|</span><span style="width:18.773px;transform:scaleX(1.067)">a</span><span style="width:9.637px;transform:scaleX(1.097)">.</span><span style="width:19.398px;transform:scaleX(1.103)">b</span><span style="width:28.91px;transform:scaleX(1.097)">...</span></div>
<div class="xl" style="left:1470.572px;top:463.974px;transform:rotate(-45deg)"><span style="width:97.332px;transform:scaleX(1.107)">gerald</span><span style="width:9.771px;transform:scaleX(1.112)"> </span><span style="width:100.339px;transform:scaleX(1.077)">combs</span><span class="b" style="width:10.272px">|</span><span style="width:97.332px;transform:scaleX(1.107)">gerald</span><span style="width:9.646px;transform:scaleX(1.098)">.</span><span style="width:100.339px;transform:scaleX(1.077)">combs</span><span style="width:30.565px;transform:scaleX(0.952)">@</span><span style="width:128.148px;transform:scaleX(1.121)">riverbed</span><span style="width:9.646px;transform:scaleX(1.098)">.</span><span style="width:35.325px;transform:scaleX(1.057)">co</span><span style="width:28.436px;transform:scaleX(1.079)">...</span></div>
<div class="xl" style="left:1529.642px;top:463.974px;transform:rotate(-45deg)"><span style="width:97.924px;transform:scaleX(1.071)">pascal</span><span style="width:9.742px;transform:scaleX(1.109)"> </span><span style="width:116.535px;transform:scaleX(1.123)">quantin</span><span class="b" style="width:10.242px">|</span><span style="width:97.924px;transform:scaleX(1.071)">pascal</span><span style="width:9.618px;transform:scaleX(1.094)">.</span><span style="width:116.535px;transform:scaleX(1.123)">quantin</span><span style="width:30.476px;transform:scaleX(0.949)">@</span><span style="width:84.56px;transform:scaleX(1.119)">gmail</span><span style="width:9.618px;transform:scaleX(1.094)">.</span><span style="width:64.825px;transform:scaleX(1.085)">com</span></div>
<div class="xl" style="left:1588.712px;top:463.974px;transform:rotate(-45deg)"><span style="width:56.625px;transform:scaleX(1.11)">guy</span><span style="width:9.75px;transform:scaleX(1.109)"> </span><span style="width:87.25px;transform:scaleX(1.103)">harris</span><span class="b" style="width:10.25px">|</span><span style="width:56.625px;transform:scaleX(1.11)">guy</span><span style="width:30.5px;transform:scaleX(0.95)">@</span><span style="width:76.25px;transform:scaleX(1.112)">alum</span><span style="width:9.625px;transform:scaleX(1.095)">.</span><span style="width:50.125px;transform:scaleX(1.189)">mit</span><span style="width:9.625px;transform:scaleX(1.095)">.</span><span style="width:57.375px;transform:scaleX(1.087)">edu</span></div>
<div class="xl" style="left:1647.782px;top:463.974px;transform:rotate(-45deg)"><span style="width:45.277px;transform:scaleX(1.171)">bill</span><span style="width:9.837px;transform:scaleX(1.119)"> </span><span style="width:89.04px;transform:scaleX(1.126)">meier</span><span class="b" style="width:10.342px">|</span><span style="width:114.264px;transform:scaleX(1.121)">wmeier</span><span style="width:30.773px;transform:scaleX(0.958)">@</span><span style="width:136.839px;transform:scaleX(1.096)">newsguy</span><span style="width:5.297px;transform:scaleX(0.603)">.</span><span style="width:65.456px;transform:scaleX(1.095)">com</span></div>
<div class="xl" style="left:1706.852px;top:463.974px;transform:rotate(-45deg)"><span style="width:120.407px;transform:scaleX(1.105)">michael</span><span style="width:9.763px;transform:scaleX(1.111)"> </span><span style="width:87.239px;transform:scaleX(1.103)">mann</span><span class="b" style="width:10.263px">|</span><span style="width:155.828px;transform:scaleX(1.108)">mmann78</span><span style="width:30.54px;transform:scaleX(0.951)">@</span><span style="width:139.807px;transform:scaleX(1.089)">netscape</span><span style="width:9.638px;transform:scaleX(1.097)">.</span><span style="width:50.19px;transform:scaleX(1.141)">net</span></div>
<div class="xl" style="left:1765.922px;top:463.974px;transform:rotate(-45deg)"><span style="width:96.707px;transform:scaleX(1.1)">ronnie</span><span style="width:9.771px;transform:scaleX(1.112)"> </span><span style="width:132.283px;transform:scaleX(1.09)">sahlberg</span><span class="b" style="width:10.272px">|</span><span style="width:96.707px;transform:scaleX(1.1)">ronnie</span><span style="width:15.408px;transform:scaleX(0.876)">_</span><span style="width:132.283px;transform:scaleX(1.09)">sahlberg</span><span style="width:30.565px;transform:scaleX(0.952)">@</span><span style="width:101.718px;transform:scaleX(1.071)">ozema</span><span style="width:28.937px;transform:scaleX(1.098)">...</span></div>
<div class="xl" style="left:1824.992px;top:463.974px;transform:rotate(-45deg)"><span style="width:95.257px;transform:scaleX(1.106)">tomas</span><span style="width:9.802px;transform:scaleX(1.115)"> </span><span style="width:106.316px;transform:scaleX(1.061)">kukosa</span><span class="b" style="width:10.305px">|</span><span style="width:95.257px;transform:scaleX(1.106)">tomas</span><span style="width:9.677px;transform:scaleX(1.101)">.</span><span style="width:106.316px;transform:scaleX(1.061)">kukosa</span><span style="width:30.663px;transform:scaleX(0.955)">@</span><span style="width:108.578px;transform:scaleX(1.144)">ixperta</span><span style="width:9.677px;transform:scaleX(1.101)">.</span><span style="width:65.222px;transform:scaleX(1.092)">com</span><span style="width:29.03px;transform:scaleX(1.101)">...</span></div>
<div class="xl" style="left:1884.062px;top:463.974px;transform:rotate(-45deg)"><span style="width:77.197px;transform:scaleX(1.098)">joerg</span><span style="width:9.759px;transform:scaleX(1.111)"> </span><span style="width:97.841px;transform:scaleX(1.113)">mayer</span><span class="b" style="width:10.26px">|</span><span style="width:58.429px;transform:scaleX(1.108)">jörg</span><span style="width:9.759px;transform:scaleX(1.111)"> </span><span style="width:97.841px;transform:scaleX(1.113)">mayer</span><span class="b" style="width:10.26px">|</span><span style="width:106.349px;transform:scaleX(1.121)">jmayer</span><span style="width:30.528px;transform:scaleX(0.951)">@</span><span style="width:57.303px;transform:scaleX(1.086)">egg</span><span style="width:9.634px;transform:scaleX(1.096)">.</span><span style="width:30.028px;transform:scaleX(1.138)">fg</span><span style="width:11.01px;transform:scaleX(1.045)">-</span><span style="width:28.902px;transform:scaleX(1.096)">...</span></div>
<div class="xl" style="left:1943.132px;top:463.974px;transform:rotate(-45deg)"><span style="width:48.981px;transform:scaleX(1.161)">jeff</span><span style="width:9.796px;transform:scaleX(1.115)"> </span><span style="width:113.662px;transform:scaleX(1.096)">morriss</span><span class="b" style="width:10.299px">|</span><span style="width:48.981px;transform:scaleX(1.161)">jeff</span><span style="width:7.41px;transform:scaleX(0.843)">.</span><span style="width:113.662px;transform:scaleX(1.096)">morriss</span><span style="width:9.671px;transform:scaleX(1.1)">.</span><span style="width:41.069px;transform:scaleX(1.062)">ws</span><span style="width:30.645px;transform:scaleX(0.954)">@</span><span style="width:85.027px;transform:scaleX(1.125)">gmail</span><span style="width:9.671px;transform:scaleX(1.1)">.</span><span style="width:35.417px;transform:scaleX(1.06)">co</span><span style="width:28.51px;transform:scaleX(1.081)">...</span></div>
<div class="xl" style="left:2002.202px;top:463.974px;transform:rotate(-45deg)"><span style="width:88.166px;transform:scaleX(1.09)">alexis</span><span style="width:9.782px;transform:scaleX(1.113)"> </span><span style="width:27.34px;transform:scaleX(1.111)">la</span><span style="width:9.782px;transform:scaleX(1.113)"> </span><span style="width:100.205px;transform:scaleX(1.139)">goutte</span><span class="b" style="width:10.284px">|</span><span style="width:88.166px;transform:scaleX(1.09)">alexis</span><span style="width:9.657px;transform:scaleX(1.099)">.</span><span style="width:127.545px;transform:scaleX(1.133)">lagoutte</span><span style="width:30.601px;transform:scaleX(0.953)">@</span><span style="width:76.377px;transform:scaleX(1.114)">gmai</span><span style="width:28.97px;transform:scaleX(1.099)">...</span></div>
<div class="xl" style="left:2061.272px;top:463.974px;transform:rotate(-45deg)"><span style="width:52.196px;transform:scaleX(1.1)">luis</span><span style="width:9.74px;transform:scaleX(1.108)"> </span><span style="width:125.744px;transform:scaleX(1.1)">ontanon</span><span class="b" style="width:10.239px">|</span><span style="width:52.196px;transform:scaleX(1.1)">luis</span><span style="width:9.615px;transform:scaleX(1.094)">.</span><span style="width:125.744px;transform:scaleX(1.1)">ontanon</span><span style="width:30.468px;transform:scaleX(0.949)">@</span><span style="width:84.537px;transform:scaleX(1.118)">gmail</span><span style="width:9.615px;transform:scaleX(1.094)">.</span><span style="width:64.807px;transform:scaleX(1.085)">com</span></div>
<div class="xl" style="left:2120.342px;top:463.974px;transform:rotate(-45deg)"><span style="width:65.682px;transform:scaleX(1.098)">jaap</span><span style="width:9.796px;transform:scaleX(1.115)"> </span><span style="width:98.46px;transform:scaleX(1.12)">keuter</span><span class="b" style="width:10.298px">|</span><span style="width:65.682px;transform:scaleX(1.098)">jaap</span><span style="width:9.67px;transform:scaleX(1.1)">.</span><span style="width:98.46px;transform:scaleX(1.12)">keuter</span><span style="width:30.643px;transform:scaleX(0.954)">@</span><span style="width:89.418px;transform:scaleX(1.106)">xs4all</span><span style="width:9.67px;transform:scaleX(1.1)">.</span><span style="width:28.006px;transform:scaleX(1.138)">nl</span><span class="b" style="width:10.298px">|</span><span style="width:43.955px;transform:scaleX(1.087)">jke</span><span style="width:29.011px;transform:scaleX(1.1)">...</span></div>
<div class="xl" style="left:2179.412px;top:463.974px;transform:rotate(-45deg)"><span style="width:38.845px;transform:scaleX(1.163)">ulf</span><span style="width:9.805px;transform:scaleX(1.116)"> </span><span style="width:124.076px;transform:scaleX(1.12)">lamping</span><span class="b" style="width:10.308px">|</span><span style="width:38.845px;transform:scaleX(1.163)">ulf</span><span style="width:7.417px;transform:scaleX(0.844)">.</span><span style="width:124.076px;transform:scaleX(1.12)">lamping</span><span style="width:30.673px;transform:scaleX(0.955)">@</span><span style="width:63.484px;transform:scaleX(1.094)">web</span><span style="width:9.68px;transform:scaleX(1.101)">.</span><span style="width:38.216px;transform:scaleX(1.086)">de</span></div>
<div class="xl" style="left:2238.482px;top:463.974px;transform:rotate(-45deg)"><span style="width:55.871px;transform:scaleX(1.135)">stig</span><span style="width:9.793px;transform:scaleX(1.114)"> </span><span style="width:138.986px;transform:scaleX(1.098)">bjørlykke</span><span class="b" style="width:10.295px">|</span><span style="width:55.871px;transform:scaleX(1.135)">stig</span><span style="width:30.635px;transform:scaleX(0.954)">@</span><span style="width:138.986px;transform:scaleX(1.114)">bjorlykke</span><span style="width:9.668px;transform:scaleX(1.1)">.</span><span style="width:50.095px;transform:scaleX(1.096)">org</span></div>
<div class="xl" style="left:2297.552px;top:463.974px;transform:rotate(-45deg)"><span style="width:97.711px;transform:scaleX(1.069)">pascal</span><span class="b" style="width:10.22px">|</span><span style="width:97.711px;transform:scaleX(1.069)">pascal</span><span style="width:30.41px;transform:scaleX(0.947)">@</span><span style="width:136.347px;transform:scaleX(1.092)">localhost</span></div>
<div class="xl" style="left:2356.622px;top:463.974px;transform:rotate(-45deg)"><span style="width:99.559px;transform:scaleX(1.156)">gilbert</span><span style="width:9.805px;transform:scaleX(1.116)"> </span><span style="width:116.78px;transform:scaleX(1.108)">ramirez</span><span class="b" style="width:10.308px">|</span><span style="width:119.043px;transform:scaleX(1.148)">gilramir</span><span style="width:30.672px;transform:scaleX(0.955)">@</span><span style="width:76.806px;transform:scaleX(1.066)">cisco</span><span style="width:9.176px;transform:scaleX(1.044)">.</span><span style="width:65.241px;transform:scaleX(1.092)">com</span><span class="b" style="width:10.308px">|</span><span style="width:32.055px;transform:scaleX(1.14)">gr</span><span style="width:26.272px;transform:scaleX(0.997)">...</span></div>
<div class="xl" style="left:2415.692px;top:463.974px;transform:rotate(-45deg)"><span style="width:74.875px;transform:scaleX(1.092)">evan</span><span style="width:9.75px;transform:scaleX(1.109)"> </span><span style="width:74px;transform:scaleX(1.079)">huus</span><span class="b" style="width:10.25px">|</span><span style="width:130.5px;transform:scaleX(1.075)">eapache</span><span style="width:30.5px;transform:scaleX(0.95)">@</span><span style="width:84.625px;transform:scaleX(1.12)">gmail</span><span style="width:9.625px;transform:scaleX(1.095)">.</span><span style="width:64.875px;transform:scaleX(1.086)">com</span><span class="b" style="width:10.25px">|</span><span style="width:74.875px;transform:scaleX(1.092)">evan</span><span style="width:9.625px;transform:scaleX(1.095)">.</span><span style="width:74px;transform:scaleX(1.079)">huus</span><span style="width:28.875px;transform:scaleX(1.095)">...</span></div>
<div class="xl" style="left:2474.762px;top:463.974px;transform:rotate(-45deg)"><span style="width:64.393px;transform:scaleX(1.077)">joão</span><span style="width:9.772px;transform:scaleX(1.112)"> </span><span style="width:132.42px;transform:scaleX(1.108)">valverde</span><span class="b" style="width:10.273px">|</span><span style="width:8.519px;transform:scaleX(1.212)">j</span><span style="width:30.568px;transform:scaleX(0.952)">@</span><span style="width:56.25px;transform:scaleX(1.103)">v6e</span><span style="width:9.646px;transform:scaleX(1.098)">.</span><span style="width:31.445px;transform:scaleX(1.192)">pt</span><span class="b" style="width:10.273px">|</span><span style="width:64.393px;transform:scaleX(1.077)">joao</span><span style="width:9.145px;transform:scaleX(1.041)">.</span><span style="width:132.42px;transform:scaleX(1.108)">valverde</span><span style="width:30.568px;transform:scaleX(0.952)">@</span><span style="width:28.939px;transform:scaleX(1.098)">...</span></div>
<div class="xl" style="left:2533.832px;top:463.974px;transform:rotate(-45deg)"><span style="width:101.185px;transform:scaleX(1.151)">martin</span><span style="width:9.78px;transform:scaleX(1.113)"> </span><span style="width:161.244px;transform:scaleX(1.105)">mathieson</span><span class="b" style="width:10.281px">|</span><span style="width:101.185px;transform:scaleX(1.151)">martin</span><span style="width:9.655px;transform:scaleX(1.099)">.</span><span style="width:12.664px;transform:scaleX(1.202)">r</span><span style="width:6.896px;transform:scaleX(0.785)">.</span><span style="width:161.244px;transform:scaleX(1.105)">mathieson</span><span style="width:30.594px;transform:scaleX(0.953)">@</span><span style="width:19.309px;transform:scaleX(1.098)">g</span><span style="width:28.964px;transform:scaleX(1.099)">...</span></div>
</div>
</body></html>
